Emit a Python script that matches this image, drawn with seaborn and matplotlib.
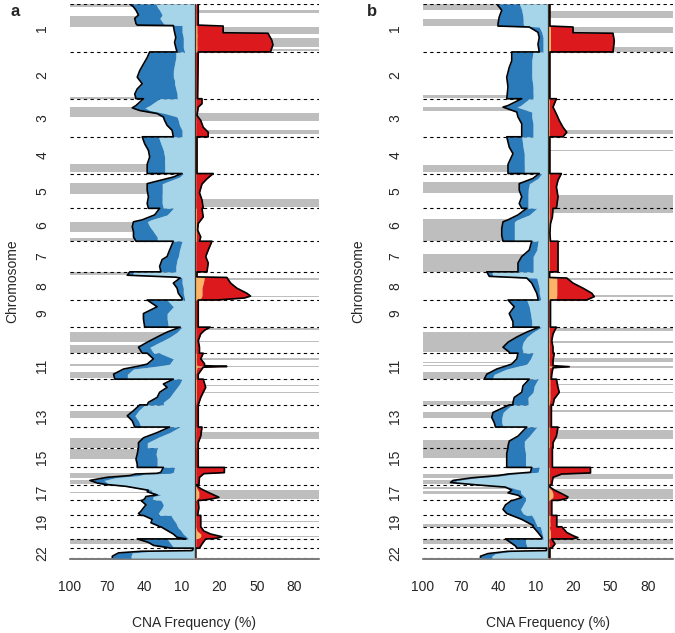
import numpy as np
import matplotlib
matplotlib.use("Agg")
import matplotlib.pyplot as plt
import seaborn as sns

# hg19 chromosome lengths (Mb)
chrom_len = [249.3, 243.2, 198.0, 191.2, 180.9, 171.1, 159.1, 146.4, 141.2, 135.5, 135.0,
             133.9, 115.2, 107.3, 102.5, 90.4, 81.2, 78.1, 59.1, 63.0, 48.1, 51.3]
chrom_labels = {1: "1", 2: "2", 3: "3", 4: "4", 5: "5", 6: "6", 7: "7", 8: "8", 9: "9",
                11: "11", 13: "13", 15: "15", 17: "17", 19: "19", 22: "22"}

# (chromosome, position as fraction of chromosome, total %, inner %)
a_loss = [
    (1, 0, 52, 31), (1, .06, 49, 30), (1, .13, 47, 28), (1, .23, 45, 26), (1, .30, 48, 28),
    (1, .41, 47, 25), (1, .44, 46, 24), (1, .45, 17, 10), (1, .59, 16, 10), (1, .70, 15, 9),
    (1, .80, 16, 9), (1, .91, 15, 9), (1, 1, 14, 8),
    (2, 0, 36, 15), (2, .12, 38, 15), (2, .26, 41, 16), (2, .40, 44, 17), (2, .54, 46, 17),
    (2, .61, 44, 16), (2, .68, 42, 16), (2, .79, 46, 15), (2, .90, 48, 14), (2, 1, 47, 14),
    (3, 0, 41, 28), (3, .18, 47, 36), (3, .24, 50, 40), (3, .31, 44, 36), (3, .39, 30, 24),
    (3, .48, 25, 14), (3, .57, 24, 13), (3, .70, 22, 12), (3, .83, 18, 10), (3, 1, 17, 10),
    (4, 0, 42, 29), (4, .19, 40, 27), (4, .37, 37, 25), (4, .55, 36, 24), (4, .75, 38, 24), (4, 1, 38, 24),
    (5, 0, 10, 9), (5, .10, 17, 12), (5, .29, 38, 26), (5, .48, 38, 26), (5, .67, 37, 26),
    (5, .86, 38, 26), (5, 1, 37, 25),
    (6, 0, 28, 17), (6, .20, 32, 22), (6, .35, 42, 35), (6, .41, 49, 38), (6, .56, 50, 36),
    (6, .71, 49, 33), (6, .87, 49, 30), (6, 1, 47, 30),
    (7, 0, 17, 10), (7, .29, 20, 12), (7, .50, 22, 13), (7, .60, 26, 14), (7, .82, 28, 15), (7, 1, 27, 15),
    (8, 0, 52, 49), (8, .12, 54, 50), (8, .19, 15, 11), (8, .22, 11.5, 10), (8, .40, 17, 10),
    (8, .58, 14, 9), (8, .76, 13, 9), (8, .94, 10, 8), (8, 1, 10, 8),
    (9, 0, 38, 22), (9, .25, 30, 17), (9, .50, 41, 22), (9, .69, 41, 22), (9, 1, 40, 21),
    (10, 0, 11.5, 10), (10, .19, 22, 14), (10, .38, 30, 20), (10, .58, 38, 28), (10, .77, 45, 36), (10, 1, 42, 33),
    (11, 0, 38, 28), (11, .22, 33, 17), (11, .42, 38, 20), (11, .50, 45, 30), (11, .61, 57, 49),
    (11, .81, 65, 54), (11, 1, 64, 54),
    (12, 0, 17, 10), (12, .19, 25, 12), (12, .32, 22, 14), (12, .51, 28, 17), (12, .71, 30, 20),
    (12, .90, 37, 25), (12, 1, 38, 25),
    (13, 0, 44, 40), (13, .26, 49, 45), (13, .49, 54, 48), (13, .72, 50, 45), (13, 1, 48, 43),
    (14, 0, 20, 12), (14, .27, 30, 20), (14, .52, 41, 30), (14, .76, 45, 38), (14, 1, 45, 38),
    (15, 0, 45, 30), (15, .33, 46, 31), (15, .58, 47, 30), (15, .83, 46, 30), (15, 1, 46, 30),
    (16, 0, 25, 16), (16, .28, 27, 17), (16, .34, 30, 20), (16, .38, 47, 40), (16, .47, 52, 45),
    (16, .57, 70, 62), (16, .75, 84, 73), (16, .90, 78, 70), (16, 1, 70, 66),
    (17, 0, 68, 64), (17, .10, 55, 52), (17, .35, 37, 34), (17, .45, 38, 35), (17, .65, 30, 27),
    (17, .75, 39, 33), (17, .90, 40, 34), (17, 1, 42, 30),
    (18, 0, 43, 27), (18, .30, 39, 25), (18, .50, 41, 26), (18, .72, 43, 28), (18, .87, 45, 29), (18, 1, 43, 28),
    (19, 0, 41, 19), (19, .35, 34, 17), (19, .65, 35, 15), (19, .88, 30, 14), (19, 1, 28, 14),
    (20, 0, 27, 14), (20, .30, 22, 11), (20, .60, 17, 9), (20, .87, 14, 6), (20, 1, 7, 5),
    (21, 0, 46, 22), (21, .38, 37, 20), (21, .70, 33, 18), (21, .95, 21, 17), (21, 1, 20, 16),
    (22, 0, 1, .5), (22, .25, 2, 1), (22, .32, 43, 35), (22, .48, 61, 50), (22, .82, 66, 51), (22, 1, 66, 51),
]
a_gain = [
    (1, 0, 3, 1), (1, .44, 3, 1), (1, .46, 23, 2), (1, .60, 23, 2), (1, .61, 59, 2),
    (1, .75, 62, 2), (1, .85, 63, 2), (1, 1, 61, 2),
    (2, 0, 3, .5), (2, 1, 2.5, .5),
    (3, 0, 6, 1), (3, .13, 6, 1), (3, .22, 3, 1), (3, .44, 2, 1), (3, .57, 5, 1), (3, .75, 7, 1),
    (3, .88, 11, 1), (3, 1, 11, 1),
    (4, 0, 2, .5), (4, 1, 2, .5),
    (5, 0, 15, 1), (5, .15, 10, 1), (5, .30, 6, 1), (5, .55, 4, 1), (5, .76, 6, 1), (5, 1, 7, 1),
    (6, 0, 6, 1.5), (6, .26, 7, 1.5), (6, .46, 3, 1.5), (6, .66, 2.5, 1.5), (6, .87, 5, 1.5), (6, 1, 4, 1.5),
    (7, 0, 14, 1), (7, .29, 11, 1), (7, .50, 9, 1), (7, .71, 11, 1), (7, 1, 10, 1),
    (8, 0, 2, .5), (8, .18, 2, .5), (8, .20, 26, 8), (8, .40, 29, 7), (8, .58, 34, 6),
    (8, .76, 42, 6), (8, .86, 45, 6), (8, .93, 40, 5), (8, 1, 18, 4),
    (9, 0, 3, .5), (9, 1, 3, .5),
    (10, 0, 12.6, 1), (10, .12, 8, 1), (10, .26, 5, 1), (10, .52, 3, 1), (10, .77, 4, 1), (10, 1, 4, 1),
    (11, 0, 7, 1.5), (11, .22, 5, 1.5), (11, .40, 8, 1.5), (11, .48, 8, 2), (11, .51, 26, 12),
    (11, .54, 7, 2), (11, .81, 3, 1), (11, 1, 3, 1),
    (12, 0, 7, 1.5), (12, .32, 9, 1.5), (12, .51, 7, 1.5), (12, .71, 5, 1.5), (12, 1, 3, 1),
    (13, 0, 3, .5), (13, 1, 3, .5),
    (14, 0, 6, 1), (14, .44, 5, 1), (14, .76, 3, 1), (14, 1, 3, 1),
    (15, 0, 3, .5), (15, 1, 3, .5),
    (16, 0, 24, 1), (16, .30, 24, 1), (16, .36, 7.5, 1), (16, .57, 4, 1), (16, 1, 3.5, 1),
    (17, 0, 1, .5), (17, .25, 5, 2), (17, .45, 10, 3.5), (17, .65, 15.5, 3.5), (17, .80, 19.6, 3.5),
    (17, .92, 13, 2), (17, 1, 5, 1),
    (18, 0, 3, .5), (18, .50, 3.5, .5), (18, 1, 2.5, .5),
    (19, 0, 5, 1), (19, 1, 5, 1),
    (20, 0, 5, 1), (20, .35, 7.5, 2), (20, .60, 13, 5), (20, .82, 22, 5), (20, .95, 18, 3), (20, 1, 10, 1),
    (21, 0, 9, 1), (21, .55, 6, 1), (21, 1, 4, 1),
    (22, 0, 1, .3), (22, 1, 1, .3),
]

b_loss = [
    (1, 0, 41, 23), (1, .13, 37, 21), (1, .27, 39, 20), (1, .41, 40, 20), (1, .46, 40, 19),
    (1, .48, 15, 7), (1, .59, 8, 5), (1, .70, 7, 4), (1, .84, 8, 4), (1, 1, 7, 4),
    (2, 0, 29, 12), (2, .19, 29, 13), (2, .33, 31, 13), (2, .54, 33, 13), (2, .75, 32, 12), (2, 1, 33, 12),
    (3, 0, 21, 15), (3, .18, 32, 22), (3, .22, 36, 25), (3, .35, 25, 13), (3, .48, 24, 13),
    (3, .66, 21, 12), (3, 1, 21, 12),
    (4, 0, 33, 21), (4, .28, 31, 20), (4, .46, 28, 19), (4, .75, 32, 19), (4, 1, 32, 19),
    (5, 0, 7, 5), (5, .14, 12, 8), (5, .29, 23, 15), (5, .48, 23, 16), (5, .67, 21, 16),
    (5, .86, 23, 16), (5, 1, 21, 16),
    (6, 0, 17, 9), (6, .20, 24, 15), (6, .35, 32, 25), (6, .41, 36, 27), (6, .61, 37, 27),
    (6, .82, 37, 27), (6, 1, 36, 27),
    (7, 0, 13, 8), (7, .29, 15, 9), (7, .50, 21, 12), (7, .71, 24, 12), (7, 1, 24, 12),
    (8, 0, 49, 45), (8, .16, 47, 44), (8, .22, 17, 9), (8, .40, 13, 8), (8, .58, 11, 7),
    (8, .76, 9, 7), (8, .94, 8, 6), (8, 1, 8, 6),
    (9, 0, 32, 17), (9, .25, 27, 15), (9, .50, 31, 14), (9, .80, 28, 13), (9, 1, 28, 13),
    (10, 0, 7, 5), (10, .19, 17, 12), (10, .38, 25, 17), (10, .58, 32, 20), (10, .77, 36, 21),
    (10, .96, 31, 20), (10, 1, 31, 20),
    (11, 0, 24, 12), (11, .22, 25, 14), (11, .42, 29, 17), (11, .61, 41, 33), (11, .81, 49, 43), (11, 1, 51, 45),
    (12, 0, 15, 8), (12, .26, 20, 11), (12, .51, 21, 12), (12, .71, 27, 16), (12, .90, 28, 16), (12, 1, 28, 16),
    (13, 0, 31, 29), (13, .34, 44, 36), (13, .57, 45, 37), (13, .80, 43, 37), (13, 1, 42, 36),
    (14, 0, 17, 9), (14, .44, 24, 15), (14, .68, 31, 19), (14, .92, 32, 19), (14, 1, 32, 19),
    (15, 0, 32, 19), (15, .30, 33, 18), (15, .75, 33, 18), (15, 1, 33, 18),
    (16, 0, 13, 7), (16, .28, 14, 8), (16, .38, 32, 28), (16, .47, 40, 36), (16, .60, 61, 57),
    (16, .75, 76, 73), (16, .87, 78, 75), (16, 1, 58, 55),
    (17, 0, 58, 55), (17, .15, 34, 31), (17, .35, 29, 22), (17, .52, 32, 22), (17, .67, 24, 20),
    (17, .82, 21, 18), (17, 1, 28, 18),
    (18, 0, 29, 18), (18, .30, 34, 20), (18, .60, 36, 22), (18, .87, 33, 20), (18, 1, 29, 18),
    (19, 0, 29, 13), (19, .35, 21, 11), (19, .65, 16, 10), (19, .88, 12, 9), (19, 1, 12, 9),
    (20, 0, 12, 6), (20, .47, 8, 5), (20, .87, 5, 4), (20, 1, 5, 4),
    (21, 0, 34, 18), (21, .38, 30, 18), (21, .77, 26, 17), (21, 1, 25, 17),
    (22, 0, 1, .5), (22, .25, 1.5, 1), (22, .32, 32, 28), (22, .55, 48, 42), (22, .82, 54, 45), (22, 1, 54, 45),
]
b_gain = [
    (1, 0, 1.5, .5), (1, .46, 1.5, .5), (1, .48, 20, 2), (1, .60, 20, 2), (1, .61, 52, 2),
    (1, .77, 53, 2), (1, 1, 52, 2),
    (2, 0, 1.5, .5), (2, 1, 1.5, .5),
    (3, 0, 6.7, 1), (3, .22, 4, 1), (3, .40, 6.7, 1), (3, .57, 9, 1), (3, .75, 12, 1),
    (3, .88, 15, 1), (3, 1, 12, 1),
    (4, 0, 1.5, .5), (4, 1, 1.5, .5),
    (5, 0, 10.7, 1), (5, .19, 8, 1), (5, .38, 6.7, 1), (5, .67, 8, 1), (5, 1, 6.7, 1),
    (6, 0, 4, 1), (6, .26, 3.5, 1), (6, .46, 2, 1), (6, .76, 1.5, 1), (6, 1, 2, 1),
    (7, 0, 8, 1), (7, 1, 8, 1),
    (8, 0, 1.3, .5), (8, .20, 1.3, .5), (8, .22, 15, 7), (8, .40, 20, 7), (8, .58, 28, 7),
    (8, .76, 35, 7), (8, .88, 37, 7), (8, 1, 31, 6),
    (9, 0, 2, .5), (9, 1, 2, .5),
    (10, 0, 6.7, 1), (10, .26, 4, 1), (10, .52, 3, 1), (10, .77, 4, 1), (10, 1, 4, 1),
    (11, 0, 5, 1), (11, .28, 4, 1), (11, .48, 4, 1), (11, .52, 17, 6.7), (11, .56, 4, 1),
    (11, .81, 3, 1), (11, 1, 2.7, 1),
    (12, 0, 6.7, 1.5), (12, .32, 8, 1.5), (12, .51, 9, 1.5), (12, .77, 5, 1.5), (12, 1, 4, 1),
    (13, 0, 2.7, .5), (13, 1, 2.7, .5),
    (14, 0, 8, 1), (14, .44, 6.7, 1), (14, .76, 4, 1), (14, 1, 4, 1),
    (15, 0, 3.5, .5), (15, 1, 3.5, .5),
    (16, 0, 34, 1), (16, .32, 34, 1), (16, .38, 11, 1), (16, .57, 4, 1), (16, 1, 3, 1),
    (17, 0, 1.6, .5), (17, .15, 1.6, .5), (17, .36, 5.6, 3), (17, .57, 11, 4), (17, .78, 16, 4),
    (17, .88, 15, 3), (17, 1, 8, 1),
    (18, 0, 3, .5), (18, 1, 3, .5),
    (19, 0, 7, 1.5), (19, 1, 7, 1.5),
    (20, 0, 11, 1), (20, .47, 15, 2), (20, .73, 20, 2), (20, .90, 24, 2), (20, 1, 19, 1),
    (21, 0, 3, .5), (21, .55, 5.6, 1), (21, 1, 3, .5),
    (22, 0, 1.5, .3), (22, 1, 1.5, .3),
]

# significant regions (chromosome, start fraction, end fraction)
a_sig_loss = [(1, 0, .07), (1, .26, .48), (2, .97, 1), (3, .22, .48), (4, .73, .97), (5, .27, .60),
              (6, .41, .71), (6, .89, 1), (8, 0, .10), (9, .14, .16), (10, .19, .58), (10, .70, 1),
              (11, .42, .48), (11, .74, .96), (13, .26, .57), (14, .52, 1), (15, .08, .58),
              (16, .34, .60), (16, .75, .94), (17, .45, .50), (21, 0, .58)]
a_sig_gain = [(1, .13, .18), (1, .47, .62), (1, .70, .89), (1, .94, .99), (3, .37, .59), (3, .83, .92),
              (5, .74, .97), (6, .78, .79), (6, .95, .96), (8, .22, .30), (8, .86, .90), (10, .03, .10),
              (10, .55, .58), (11, .20, .26), (11, .48, .55), (12, .22, .27), (12, .49, .54),
              (14, .24, .56), (17, .31, .94), (19, .30, .36), (19, .50, .56), (20, .79, .86)]
b_sig_loss = [(1, 0, .13), (1, .32, .46), (2, .92, .99), (3, .22, .31), (4, .77, .97), (5, .24, .57),
              (6, .31, 1), (7, .41, 1), (10, .19, .96), (11, .35, .39), (11, .44, .48), (11, .74, 1),
              (12, .83, 1), (13, .31, .57), (14, .63, 1), (15, 0, .50), (16, .38, .62), (16, .72, .94),
              (17, .15, .25), (17, .40, .56), (19, .80, 1), (21, 0, .58)]
b_sig_gain = [(1, .14, .30), (1, .47, .60), (1, .90, 1), (3, .83, .92), (4, .35, .40), (5, .62, 1),
              (6, 0, .15), (6, .63, .64), (6, .90, .91), (8, .22, .28), (8, .84, .90), (10, .03, .13),
              (10, .54, .60), (11, .18, .35), (11, .51, .57), (12, .20, .23), (12, .49, .55),
              (13, .23, .34), (14, .16, .60), (16, .38, .66), (17, .25, .88), (19, .30, .65), (21, 0, .55)]

LIGHT_BLUE = "#A6D5E9"
DARK_BLUE = "#2B7BBA"
RED = "#DC1A1E"
ORANGE = "#FDB366"
GRAY = "#BEBEBE"

chrom_start = np.concatenate([[0], np.cumsum(chrom_len)[:-1]])
genome_len = float(np.sum(chrom_len))


def build(rows):
    ys, tot, inn = [], [], []
    for c in range(1, 23):
        pts = [(f, t, i) for (ch, f, t, i) in rows if ch == c]
        if pts[0][0] > 0:
            pts.insert(0, (0.0, pts[0][1], pts[0][2]))
        if pts[-1][0] < 1:
            pts.append((1.0, pts[-1][1], pts[-1][2]))
        for f, t, i in pts:
            ys.append(chrom_start[c - 1] + f * chrom_len[c - 1])
            tot.append(t)
            inn.append(i)
    return np.array(ys), np.array(tot, float), np.array(inn, float)


def draw_panel(ax, loss, gain, sig_loss, sig_gain):
    for c, f0, f1 in sig_loss:
        y0 = chrom_start[c - 1] + f0 * chrom_len[c - 1]
        ax.axhspan(y0, y0 + (f1 - f0) * chrom_len[c - 1], xmin=0, xmax=0.5, color=GRAY, lw=0, zorder=1)
    for c, f0, f1 in sig_gain:
        y0 = chrom_start[c - 1] + f0 * chrom_len[c - 1]
        ax.axhspan(y0, y0 + (f1 - f0) * chrom_len[c - 1], xmin=0.5, xmax=1, color=GRAY, lw=0, zorder=1)

    for yb in list(chrom_start) + [genome_len]:
        ax.plot([-100, 100], [yb, yb], color="black", lw=0.8, ls=(0, (3, 3)), zorder=2)

    y, tot, inn = build(loss)
    ax.fill_betweenx(y, 0, -inn, color=LIGHT_BLUE, lw=0, zorder=3)
    ax.fill_betweenx(y, -inn, -tot, color=DARK_BLUE, lw=0, zorder=3)
    ax.plot(-tot, y, color="black", lw=1.2, zorder=4)

    y, tot, inn = build(gain)
    ax.fill_betweenx(y, 0, inn, color=ORANGE, lw=0, zorder=3)
    ax.fill_betweenx(y, inn, tot, color=RED, lw=0, zorder=3)
    ax.plot(tot, y, color="black", lw=1.2, zorder=4)

    ax.plot([0, 0], [0, genome_len], color="#3b3526", lw=0.9, zorder=5)

    ax.set_xlim(-100, 100)
    ax.set_ylim(genome_len, 0)
    xt = np.arange(-100, 101, 10)
    ax.set_xticks(xt)
    ax.set_xticklabels([str(abs(v)) if v in (-100, -70, -40, -10, 20, 50, 80) else "" for v in xt])
    centers = [chrom_start[c - 1] + chrom_len[c - 1] / 2 for c in chrom_labels]
    ax.set_yticks(centers)
    ax.set_yticklabels(list(chrom_labels.values()), rotation=90, va="center")
    ax.tick_params(axis="y", length=0, pad=15, labelsize=10)
    ax.tick_params(axis="x", length=6, width=1.1, color="#555555", pad=9, labelsize=10)
    for s in ("left", "top", "right"):
        ax.spines[s].set_visible(False)
    ax.spines["bottom"].set_color("#555555")
    ax.spines["bottom"].set_linewidth(1.1)
    ax.spines["bottom"].set_position(("outward", 1))
    ax.set_xlabel("CNA Frequency (%)", fontsize=10)
    ax.set_ylabel("Chromosome", fontsize=10)
    ax.xaxis.set_label_coords(0.5, -0.104)


sns.set_style("white")
plt.rcParams["font.family"] = ["Liberation Sans", "DejaVu Sans"]

fig = plt.figure(figsize=(6.75, 6.33), dpi=100)
ax_a = fig.add_axes([70 / 675, 1 - 558 / 633, 249 / 675, 554 / 633])
ax_b = fig.add_axes([423 / 675, 1 - 558 / 633, 250 / 675, 554 / 633])

draw_panel(ax_a, a_loss, a_gain, a_sig_loss, a_sig_gain)
draw_panel(ax_b, b_loss, b_gain, b_sig_loss, b_sig_gain)
ax_a.yaxis.set_label_coords(-0.205, 0.5)
ax_b.yaxis.set_label_coords(-0.232, 0.5)

fig.text(15 / 675, 1 - 11 / 633, "a", fontsize=12, fontweight="bold", ha="center", va="center")
fig.text(372 / 675, 1 - 11 / 633, "b", fontsize=12, fontweight="bold", ha="center", va="center")

fig.savefig("out.png", dpi=100)
